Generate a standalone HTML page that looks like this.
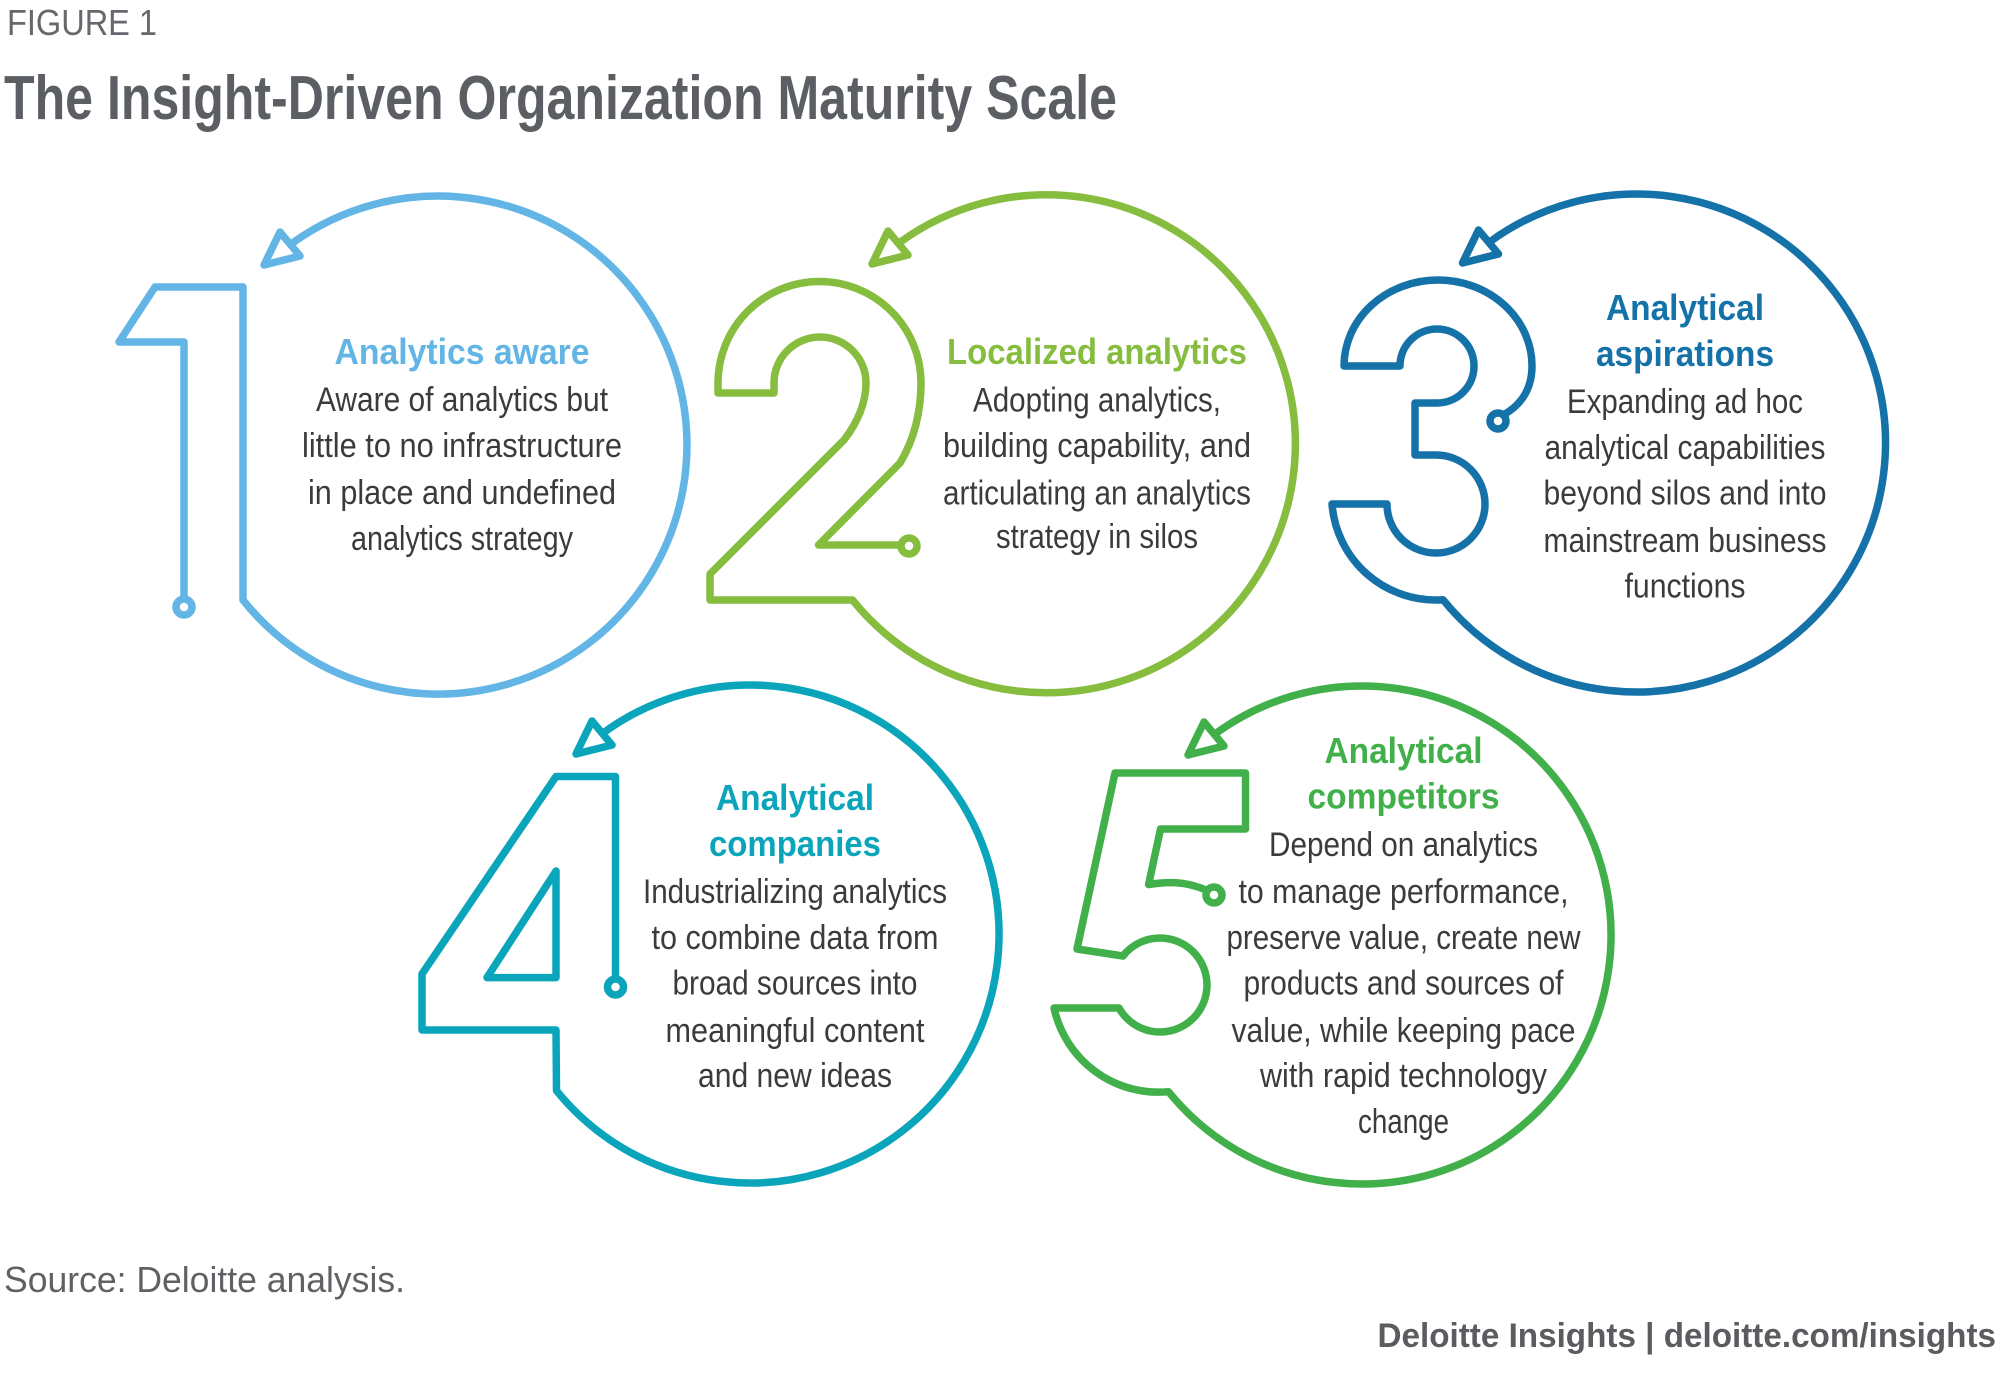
<!DOCTYPE html>
<html><head><meta charset="utf-8"><style>
html,body{margin:0;padding:0;background:#fff;}
svg{display:block;}
text{font-family:"Liberation Sans",Arial,sans-serif;}
.h{font-weight:bold;font-size:36px;}
.b{font-size:34px;fill:#3a3b3d;}
</style></head><body>
<svg width="2000" height="1389" viewBox="0 0 2000 1389" xmlns="http://www.w3.org/2000/svg">
<rect width="2000" height="1389" fill="#fff"/>
<text x="7" y="35" font-size="36" fill="#65686c" textLength="150" lengthAdjust="spacingAndGlyphs">FIGURE 1</text>
<text x="4" y="119" font-size="62" font-weight="bold" fill="#5b5e62" textLength="1113" lengthAdjust="spacingAndGlyphs">The Insight-Driven Organization Maturity Scale</text>

<g fill="none" stroke-width="7.5" stroke-linejoin="round" stroke-linecap="round">
<!-- Circle 1 -->
<g stroke="#62b5e5">
<path d="M291.6 243.6 A249 249 0 1 1 243 600 L243 287 L155 287 L119 342 L184 342 L184 599"/>
<polygon points="264,265 280,232 300,256" fill="#fff"/>
<circle cx="184" cy="607" r="8" fill="#fff"/>
</g>
<!-- Circle 2 -->
<g stroke="#86bd3f">
<path d="M899.6 242.6 A249 249 0 1 1 852.5 600 L710 600 L710 574 L844 440 C858 422 866 402 866 383 A46 46 0 0 0 774 383 L774 393 L718 393 L718 383 A101 101 0 0 1 921 383 C921 412 914 440 900 463 L818.5 545 L900 545"/>
<polygon points="872,264 888,231 908,255" fill="#fff"/>
<circle cx="909" cy="546" r="8" fill="#fff"/>
</g>
<!-- Circle 3 -->
<g stroke="#1472a9">
<path d="M1490.1 241.6 A249 249 0 1 1 1443 599.7 A104 104 0 0 1 1332 504 L1387 504 A49 49 0 1 0 1436 455 L1415 455 L1415 403 L1437 403 A37 37 0 1 0 1400 366 L1344 366 A94 86 0 0 1 1532 366 C1532 390 1520 405 1505 414"/>
<polygon points="1462.5,263 1478.5,230 1498.5,254" fill="#fff"/>
<circle cx="1498" cy="421" r="8" fill="#fff"/>
</g>
<!-- Circle 4 -->
<g stroke="#0ba5bb">
<path d="M603.6 732.6 A249 249 0 1 1 556.5 1090.7 L556 1030 L422 1030 L422 974 L556 776.5 L615.5 776.5 L615.5 979"/>
<path d="M556 871 L556 977.6 L487 977.6 Z"/>
<polygon points="576,754 592,721 612,745" fill="#fff"/>
<circle cx="615.5" cy="987" r="8" fill="#fff"/>
</g>
<!-- Circle 5 -->
<g stroke="#41b04b">
<path d="M1215.6 733.6 A249 249 0 1 1 1168.5 1091.7 A107 107 0 0 1 1054 1008 L1119 1008 A47 47 0 1 0 1123 956 L1077 949 L1115 773 L1245.5 773 L1245.5 829 L1160.5 829 L1148.6 884.6 C1175 880 1192 884 1206 890"/>
<polygon points="1188,755 1204,722 1224,746" fill="#fff"/>
<circle cx="1214" cy="895" r="8" fill="#fff"/>
</g>
</g>

<!-- Text circle 1 -->
<text class="h" fill="#62b5e5" x="334.5" y="364" textLength="255" lengthAdjust="spacingAndGlyphs">Analytics aware</text>
<text class="b" x="316" y="411" textLength="292" lengthAdjust="spacingAndGlyphs">Aware of analytics but</text>
<text class="b" x="302" y="457" textLength="320" lengthAdjust="spacingAndGlyphs">little to no infrastructure</text>
<text class="b" x="308" y="504" textLength="308" lengthAdjust="spacingAndGlyphs">in place and undefined</text>
<text class="b" x="351" y="550" textLength="222" lengthAdjust="spacingAndGlyphs">analytics strategy</text>

<!-- Text circle 2 -->
<text class="h" fill="#86bd3f" x="947" y="364" textLength="300" lengthAdjust="spacingAndGlyphs">Localized analytics</text>
<text class="b" x="973" y="411.5" textLength="248" lengthAdjust="spacingAndGlyphs">Adopting analytics,</text>
<text class="b" x="943" y="457" textLength="308" lengthAdjust="spacingAndGlyphs">building capability, and</text>
<text class="b" x="943" y="504.5" textLength="308" lengthAdjust="spacingAndGlyphs">articulating an analytics</text>
<text class="b" x="996" y="548" textLength="202" lengthAdjust="spacingAndGlyphs">strategy in silos</text>

<!-- Text circle 3 -->
<text class="h" fill="#1472a9" x="1606" y="320" textLength="158" lengthAdjust="spacingAndGlyphs">Analytical</text>
<text class="h" fill="#1472a9" x="1596" y="366" textLength="178" lengthAdjust="spacingAndGlyphs">aspirations</text>
<text class="b" x="1567" y="413" textLength="236" lengthAdjust="spacingAndGlyphs">Expanding ad hoc</text>
<text class="b" x="1544.5" y="459" textLength="281" lengthAdjust="spacingAndGlyphs">analytical capabilities</text>
<text class="b" x="1543.5" y="504.5" textLength="283" lengthAdjust="spacingAndGlyphs">beyond silos and into</text>
<text class="b" x="1543.5" y="552" textLength="283" lengthAdjust="spacingAndGlyphs">mainstream business</text>
<text class="b" x="1624.5" y="597.5" textLength="121" lengthAdjust="spacingAndGlyphs">functions</text>

<!-- Text circle 4 -->
<text class="h" fill="#0ba5bb" x="716" y="810" textLength="158" lengthAdjust="spacingAndGlyphs">Analytical</text>
<text class="h" fill="#0ba5bb" x="709" y="856" textLength="172" lengthAdjust="spacingAndGlyphs">companies</text>
<text class="b" x="643" y="903" textLength="304" lengthAdjust="spacingAndGlyphs">Industrializing analytics</text>
<text class="b" x="651.5" y="949" textLength="287" lengthAdjust="spacingAndGlyphs">to combine data from</text>
<text class="b" x="672.5" y="994.5" textLength="245" lengthAdjust="spacingAndGlyphs">broad sources into</text>
<text class="b" x="665.5" y="1042" textLength="259" lengthAdjust="spacingAndGlyphs">meaningful content</text>
<text class="b" x="698" y="1087" textLength="194" lengthAdjust="spacingAndGlyphs">and new ideas</text>

<!-- Text circle 5 -->
<text class="h" fill="#41b04b" x="1324.5" y="763" textLength="158" lengthAdjust="spacingAndGlyphs">Analytical</text>
<text class="h" fill="#41b04b" x="1307.5" y="808.6" textLength="192" lengthAdjust="spacingAndGlyphs">competitors</text>
<text class="b" x="1269" y="856" textLength="269" lengthAdjust="spacingAndGlyphs">Depend on analytics</text>
<text class="b" x="1238.5" y="903" textLength="330" lengthAdjust="spacingAndGlyphs">to manage performance,</text>
<text class="b" x="1226.5" y="949" textLength="354" lengthAdjust="spacingAndGlyphs">preserve value, create new</text>
<text class="b" x="1243.5" y="994.5" textLength="320" lengthAdjust="spacingAndGlyphs">products and sources of</text>
<text class="b" x="1231.5" y="1042" textLength="344" lengthAdjust="spacingAndGlyphs">value, while keeping pace</text>
<text class="b" x="1260" y="1087" textLength="287" lengthAdjust="spacingAndGlyphs">with rapid technology</text>
<text class="b" x="1358" y="1133" textLength="91" lengthAdjust="spacingAndGlyphs">change</text>

<text x="4" y="1292" font-size="36" fill="#5f6165" textLength="401" lengthAdjust="spacingAndGlyphs">Source: Deloitte analysis.</text>
<text x="1377.5" y="1347" font-size="34" font-weight="bold" fill="#5a5c60" textLength="618.5" lengthAdjust="spacingAndGlyphs">Deloitte Insights | deloitte.com/insights</text>
</svg>
</body></html>
